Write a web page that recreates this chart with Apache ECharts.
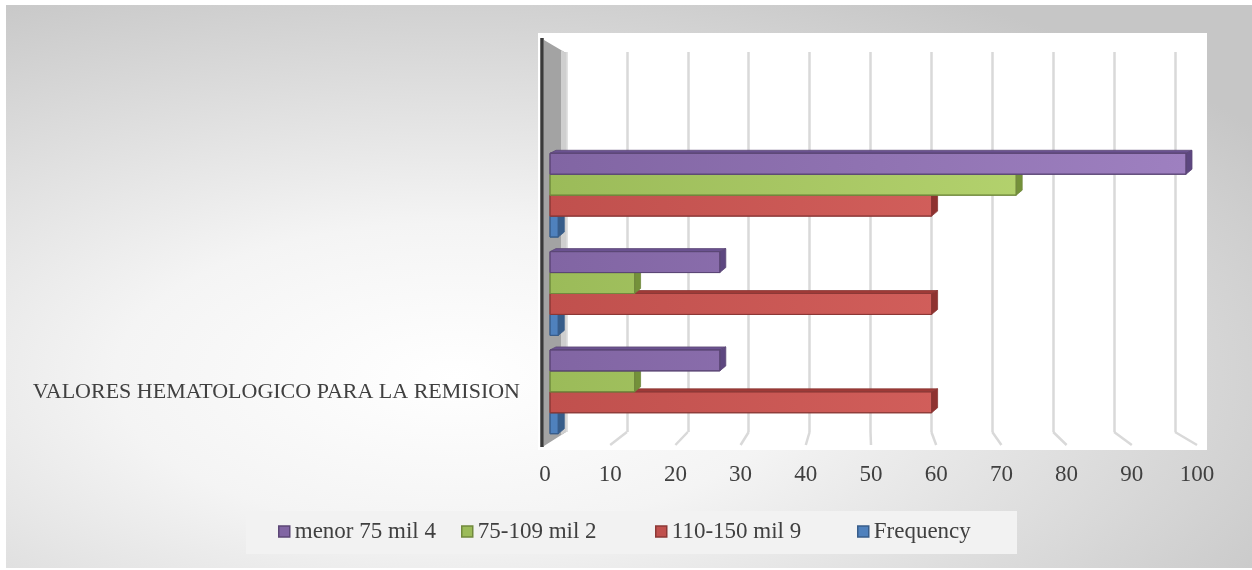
<!DOCTYPE html>
<html>
<head>
<meta charset="utf-8">
<script src="https://cdn.jsdelivr.net/npm/echarts@6/dist/echarts.min.js"></script>
<style>
  html, body { margin: 0; padding: 0; background: #ffffff; }
  #chart { width: 1252px; height: 570px; }
</style>
</head>
<body>
<div id="chart"></div>
<script>
// ---- data ----
const categories = ['VALORES HEMATOLOGICO PARA LA REMISION', '', ''];
const seriesNames = ['menor 75 mil 4', '75-109 mil 2', '110-150 mil 9', 'Frequency'];
const menor75 = [26.7, 26.7, 100];
const mil75_109 = [13.3, 13.3, 73.3];
const mil110_150 = [60, 60, 60];
const frequency = [1.3, 1.3, 1.3];
const xMin = 0, xMax = 100, xStep = 10;

// ---- layout (pixels) ----
const W = 1252;
const BACK = { left: 566, right: 1175, top: 52, bottom: 432 };   // rear wall of the 3D box
const FRONT = { left: 545, right: 1197, bottom: 445 };           // front edge of the floor
const BARS = { left: 550, right: 1186, top: 146, bottom: 441 };  // plane the bars sit in
const LEGEND_BOX = { x: 246, y: 511, w: 771, h: 43 };
const legendLefts = [278, 461, 655, 857];

const FONT = '"Liberation Serif", "DejaVu Serif", serif';
const TEXT = '#404040';

// colours: front (left), front (right, lit), top face, end face, outline
const palettes = {
  'menor 75 mil 4': { base: '#8165a3', light: '#9e80c0', top: '#6a5290', side: '#5d4780', line: '#5c4776' },
  '75-109 mil 2':   { base: '#9bbb59', light: '#bbd974', top: '#7f9c45', side: '#74913a', line: '#71893d' },
  '110-150 mil 9':  { base: '#c0504d', light: '#dc6763', top: '#9e3a37', side: '#8f3230', line: '#8c3836' },
  'Frequency':      { base: '#4f81bd', light: '#5b8fcc', top: '#3b6797', side: '#375d8a', line: '#385d8a' }
};

// slot 0 is the upper bar in each group
const seriesDefs = [
  { name: 'Frequency', values: frequency, slot: 3 },
  { name: '110-150 mil 9', values: mil110_150, slot: 2 },
  { name: '75-109 mil 2', values: mil75_109, slot: 1 },
  { name: 'menor 75 mil 4', values: menor75, slot: 0 }
];

function makeRender(slot, pal) {
  const fill = new echarts.graphic.LinearGradient(BARS.left, 0, BARS.right, 0, [
    { offset: 0, color: pal.base },
    { offset: 1, color: pal.light }
  ], true);
  return function (params, api) {
    const v = api.value(0);
    const cat = api.value(1);
    const start = api.coord([0, cat]);
    const end = api.coord([v, cat]);
    const band = api.size([0, 1])[1];
    const h = band * 0.213;
    const y0 = start[1] - 2 * h + slot * h;
    const y1 = y0 + h;
    const x0 = start[0], x1 = end[0];
    const dx = 6, dy = 3;
    return {
      type: 'group',
      children: [
        { type: 'polygon', shape: { points: [[x0, y0], [x0 + dx, y0 - dy], [x1 + dx, y0 - dy], [x1, y0]] },
          style: { fill: pal.top, stroke: pal.line, lineWidth: 0.8 } },
        { type: 'polygon', shape: { points: [[x1, y0], [x1 + dx, y0 - dy], [x1 + dx, y1 - dy - 2], [x1, y1]] },
          style: { fill: pal.side, stroke: pal.line, lineWidth: 0.8 } },
        { type: 'rect', shape: { x: x0, y: y0, width: Math.max(0, x1 - x0), height: h },
          style: { fill: fill, stroke: pal.line, lineWidth: 1 } }
      ]
    };
  };
}

const chart = echarts.init(document.getElementById('chart'), null, { renderer: 'canvas' });

// one legend per entry so each sits at its own place in the shared box
const legends = seriesNames.map((n, i) => ({
  left: legendLefts[i], top: 520,
  padding: 0,
  itemWidth: 11, itemHeight: 11,
  icon: 'rect',
  textStyle: { color: TEXT, fontFamily: FONT, fontSize: 23 },
  data: [{
    name: n,
    itemStyle: { color: palettes[n].base, borderColor: palettes[n].line, borderWidth: 1.5 }
  }]
}));

const option = {
  animation: false,
  backgroundColor: '#ffffff',
  grid: [
    { left: BACK.left, right: W - BACK.right, top: BACK.top, height: BACK.bottom - BACK.top },
    { left: FRONT.left, right: W - FRONT.right, top: BACK.top, height: FRONT.bottom - BACK.top },
    { left: BARS.left, right: W - BARS.right, top: BARS.top, height: BARS.bottom - BARS.top }
  ],
  xAxis: [
    { gridIndex: 0, type: 'value', min: xMin, max: xMax, interval: xStep,
      axisLine: { show: false }, axisTick: { show: false }, axisLabel: { show: false },
      splitLine: { show: true, lineStyle: { color: '#d9d9d9', width: 2.5 } } },
    { gridIndex: 1, type: 'value', min: xMin, max: xMax, interval: xStep,
      axisLine: { show: false }, axisTick: { show: false }, splitLine: { show: false },
      axisLabel: { color: TEXT, fontFamily: FONT, fontSize: 23, margin: 18 } },
    { gridIndex: 2, type: 'value', min: xMin, max: xMax, show: false }
  ],
  yAxis: [
    { gridIndex: 0, type: 'value', show: false },
    { gridIndex: 1, type: 'value', show: false },
    { gridIndex: 2, type: 'category', data: categories,
      axisLine: { show: false }, axisTick: { show: false }, splitLine: { show: false },
      axisLabel: { color: TEXT, fontFamily: FONT, fontSize: 22, margin: 30, padding: [10, 0, 0, 0] } }
  ],
  legend: legends,
  series: seriesDefs.map(d => ({
    name: d.name,
    type: 'custom',
    xAxisIndex: 2, yAxisIndex: 2,
    itemStyle: { color: palettes[d.name].base },
    encode: { x: 0, y: 1 },
    renderItem: makeRender(d.slot, palettes[d.name]),
    data: d.values.map((v, i) => [v, i])
  }))
};

chart.setOption(option);

// decoration: backdrop, white plot box, legend box, left wall and floor lines
const graphics = [
  { type: 'rect', z: -20, x: 6, y: 5, scaleX: (W - 6) / 563,
    shape: { x: 0, y: 0, width: 563, height: 563 },
    style: { fill: new echarts.graphic.RadialGradient(0.36, 0.66, 0.78, [
      { offset: 0, color: '#ffffff' },
      { offset: 0.35, color: '#f4f4f4' },
      { offset: 1, color: '#c6c6c6' }
    ]) } },
  { type: 'rect', z: -10, shape: { x: 538, y: 33, width: 1207 - 538, height: 450 - 33 },
    style: { fill: '#ffffff' } },
  { type: 'rect', z: -10, shape: { x: LEGEND_BOX.x, y: LEGEND_BOX.y, width: LEGEND_BOX.w, height: LEGEND_BOX.h },
    style: { fill: '#f2f2f2' } },
  { type: 'polygon', z: 1, shape: { points: [[544, 40], [566, 53], [566, 432], [544, 446]] },
    style: { fill: '#a3a3a3' } },
  { type: 'polygon', z: 1, shape: { points: [[561, 50], [566, 53], [566, 432], [561, 435]] },
    style: { fill: '#cfcfcf' } },
  { type: 'line', z: 1, shape: { x1: 542, y1: 38, x2: 542, y2: 447 },
    style: { stroke: '#3a3a3a', lineWidth: 3.5 } }
];
for (let v = xMin + xStep; v <= xMax; v += xStep) {
  const bx = chart.convertToPixel({ xAxisIndex: 0 }, v);
  const fx = chart.convertToPixel({ xAxisIndex: 1 }, v);
  graphics.push({ type: 'line', z: 0,
    shape: { x1: bx, y1: BACK.bottom, x2: fx, y2: FRONT.bottom },
    style: { stroke: '#d9d9d9', lineWidth: 2.5 } });
}
chart.setOption({ graphic: graphics });
</script>
</body>
</html>
